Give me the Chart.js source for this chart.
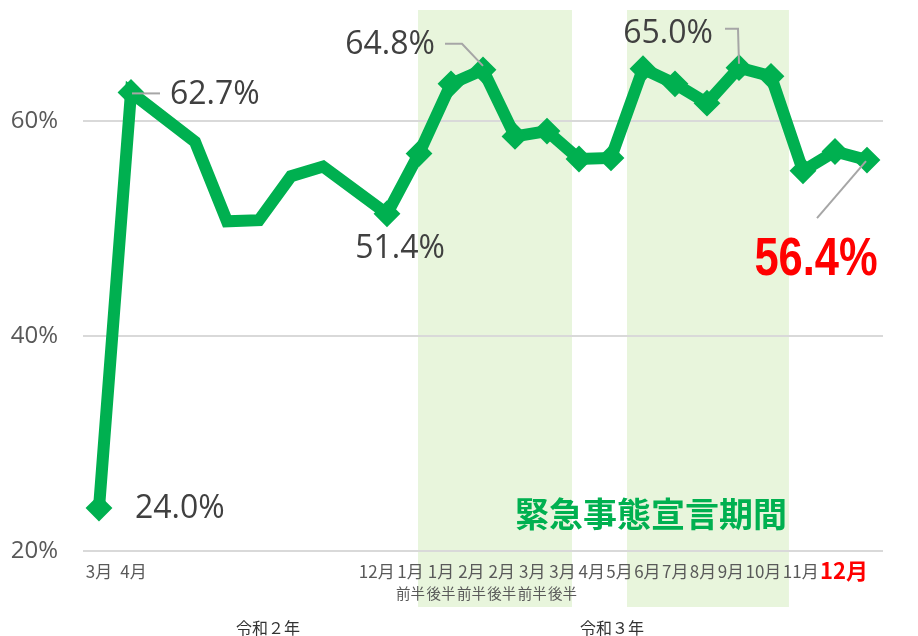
<!DOCTYPE html>
<html lang="ja">
<head>
<meta charset="utf-8">
<script src="https://cdn.jsdelivr.net/npm/chart.js@4.4.1/dist/chart.umd.min.js"></script>
<style>
  html, body { margin: 0; padding: 0; background: #fff; }
  canvas { display: block; }
</style>
</head>
<body>
<canvas id="myChart" width="918" height="636"></canvas>
<script>
// data
const categories = ['3月', '4月', '5月', '6月', '7月', '8月', '9月', '10月', '11月', '12月',
  '1月前半', '1月後半', '2月前半', '2月後半', '3月前半', '3月後半',
  '4月', '5月', '6月', '7月', '8月', '9月', '10月', '11月', '12月'];
const tickLabels = ['3月', '4月', '', '', '', '', '', '', '', '12月',
  '1月', '1月', '2月', '2月', '3月', '3月',
  '4月', '5月', '6月', '7月', '8月', '9月', '10月', '11月', '12月'];
const subLabels = ['', '', '', '', '', '', '', '', '', '',
  '前半', '後半', '前半', '後半', '前半', '後半',
  '', '', '', '', '', '', '', '', ''];
const rate = [24.0, 62.7, null, 58.1, 50.7, 50.8, 54.9, 55.8, null, 51.4,
  57.0, 63.5, 64.8, 58.6, 59.1, 56.5,
  56.6, 64.9, 63.5, 61.7, 65.0, 64.2, 55.4, 57.2, 56.4];
const yTicks = [20, 40, 60];
const years = ['令和２年', '令和３年'];
const labeledPoints = [0, 1, 9, 12, 20, 24];
const bandTitle = '緊急事態宣言期間';

const GREEN = '#00b050';
const GRAY_TEXT = '#404040';
const FONT_JP = '"Noto Sans CJK JP", "Noto Sans", sans-serif';
const FONT_NUM = '"Open Sans", "Noto Sans", sans-serif';

// where things go, in category / value units
const bands = [[9.97, 14.78], [16.5, 21.56]];
const yearPos = [5.28, 16.03];
const bandTitlePos = { x: 17.25, y: 23.4 };
// label offsets from the point: dx, dy, align, leader path
const labelStyle = {
  0: { dx: 36, dy: 1, align: 'left' },
  1: { dx: 39, dy: 2, align: 'left', leader: [[1, 1], [29, 1]] },
  9: { dx: 13, dy: 35, align: 'center' },
  12: { dx: -48, dy: -25, align: 'right', leader: [[-38, -26], [-21, -26], [0, -4]] },
  20: { dx: -26, dy: -34, align: 'right', leader: [[-14, -39], [-1, -39], [0, -4]] },
  24: { dx: -51, dy: 100, align: 'center', leader: [[-50, 58], [-1, 1]], big: true }
};

const drawXRows = (chart) => {
  const { ctx, scales: { x }, chartArea } = chart;
  const rowY = chartArea.bottom + 21;
  const subY = chartArea.bottom + 42;
  const last = tickLabels.length - 1;
  const fontFor = i => i === last ? 'bold 22px ' + FONT_JP : '17px ' + FONT_JP;
  const widthOf = i => {
    ctx.font = fontFor(i);
    let w = ctx.measureText(tickLabels[i]).width;
    if (subLabels[i]) {
      ctx.font = '14.5px ' + FONT_JP;
      w = Math.max(w, ctx.measureText(subLabels[i]).width);
    }
    return w;
  };
  const put = (i, cx) => {
    ctx.font = fontFor(i);
    ctx.fillStyle = i === last ? '#ff0000' : '#595959';
    ctx.fillText(tickLabels[i], cx, i === last ? rowY - 1 : rowY);
    if (subLabels[i]) {
      ctx.font = '14.5px ' + FONT_JP;
      ctx.fillStyle = '#595959';
      ctx.fillText(subLabels[i], cx, subY);
    }
  };
  ctx.save();
  ctx.textAlign = 'center';
  ctx.textBaseline = 'middle';
  // first run: left side, starts at its category
  let cursor = null;
  for (let i = 0; i < 9; i++) {
    if (!tickLabels[i]) continue;
    const w = widthOf(i);
    if (cursor === null) cursor = x.getPixelForValue(i) - w / 2;
    put(i, cursor + w / 2);
    cursor += w + 8;
  }
  // second run: packed, ends at the last category
  const gap = 1.4;
  let total = 0;
  for (let i = 9; i <= last; i++) total += widthOf(i) + (i < last ? gap : 0);
  cursor = x.getPixelForValue(last) + 1 - total;
  for (let i = 9; i <= last; i++) {
    const w = widthOf(i);
    put(i, cursor + w / 2);
    cursor += w + gap;
  }
  // years
  ctx.font = '16px ' + FONT_JP;
  ctx.fillStyle = '#333333';
  years.forEach((t, k) => ctx.fillText(t, x.getPixelForValue(yearPos[k]), chartArea.bottom + 77));
  ctx.restore();
};

const decorPlugin = {
  id: 'decor',
  beforeDraw(chart) {
    const { ctx, chartArea: ca, scales: { x } } = chart;
    ctx.save();
    ctx.fillStyle = '#e8f5dc';
    bands.forEach(([a, b]) => {
      const x0 = x.getPixelForValue(a);
      const x1 = x.getPixelForValue(b);
      ctx.fillRect(x0, ca.top - 4, x1 - x0, ca.bottom + 56 - (ca.top - 4));
    });
    ctx.restore();
  },
  afterDatasetsDraw(chart) {
    const { ctx, scales: { x, y } } = chart;
    const meta = chart.getDatasetMeta(0);
    ctx.save();
    labeledPoints.forEach(i => {
      const p = meta.data[i];
      const st = labelStyle[i];
      if (st.leader) {
        ctx.strokeStyle = '#a6a6a6';
        ctx.lineWidth = 2;
        ctx.beginPath();
        st.leader.forEach(([dx, dy], k) => {
          if (k === 0) ctx.moveTo(p.x + dx, p.y + dy);
          else ctx.lineTo(p.x + dx, p.y + dy);
        });
        ctx.stroke();
      }
      const text = rate[i].toFixed(1) + '%';
      ctx.textBaseline = 'middle';
      if (st.big) {
        ctx.save();
        ctx.translate(p.x + st.dx, p.y + st.dy);
        ctx.scale(0.82, 1);
        ctx.font = 'bold 53px "Liberation Sans", Arial, sans-serif';
        ctx.fillStyle = '#ff0000';
        ctx.textAlign = 'center';
        ctx.fillText(text, 0, 0);
        ctx.restore();
      } else {
        ctx.font = '32px ' + FONT_NUM;
        ctx.fillStyle = GRAY_TEXT;
        ctx.textAlign = st.align;
        ctx.fillText(text, p.x + st.dx, p.y + st.dy);
      }
    });
    // band caption
    ctx.font = 'bold 34px ' + FONT_JP;
    ctx.fillStyle = GREEN;
    ctx.textAlign = 'center';
    ctx.textBaseline = 'middle';
    ctx.fillText(bandTitle, x.getPixelForValue(bandTitlePos.x), y.getPixelForValue(bandTitlePos.y));
    ctx.restore();
    drawXRows(chart);
  }
};

new Chart(document.getElementById('myChart'), {
  type: 'line',
  data: {
    labels: categories,
    datasets: [{
      data: rate,
      borderColor: GREEN,
      backgroundColor: GREEN,
      borderWidth: 12,
      tension: 0,
      spanGaps: true,
      fill: false,
      pointStyle: 'rectRot',
      pointRadius: ctx => (ctx.dataIndex >= 2 && ctx.dataIndex <= 8) ? 0 : 12,
      pointBorderWidth: 2,
      pointBorderColor: GREEN,
      pointBackgroundColor: GREEN
    }]
  },
  options: {
    responsive: false,
    animation: false,
    events: [],
    layout: { padding: { top: 12, right: 35, left: 0, bottom: 0 } },
    plugins: {
      legend: { display: false },
      tooltip: { enabled: false }
    },
    scales: {
      x: {
        offset: true,
        grid: { display: false },
        border: { display: false },
        ticks: { display: false },
        afterFit: s => { s.height = 85; s.paddingLeft = 0; s.paddingRight = 0; }
      },
      y: {
        min: 20,
        max: 70,
        border: { display: false },
        grid: { color: '#d9d9d9', lineWidth: 2, drawTicks: false },
        ticks: {
          padding: 25,
          color: '#595959',
          font: { family: FONT_NUM, size: 24 },
          callback: v => v + '%'
        },
        afterBuildTicks: s => { s.ticks = yTicks.map(v => ({ value: v })); },
        afterFit: s => { s.width = 83; s.paddingTop = 0; s.paddingBottom = 0; }
      }
    }
  },
  plugins: [decorPlugin]
});
</script>
</body>
</html>
